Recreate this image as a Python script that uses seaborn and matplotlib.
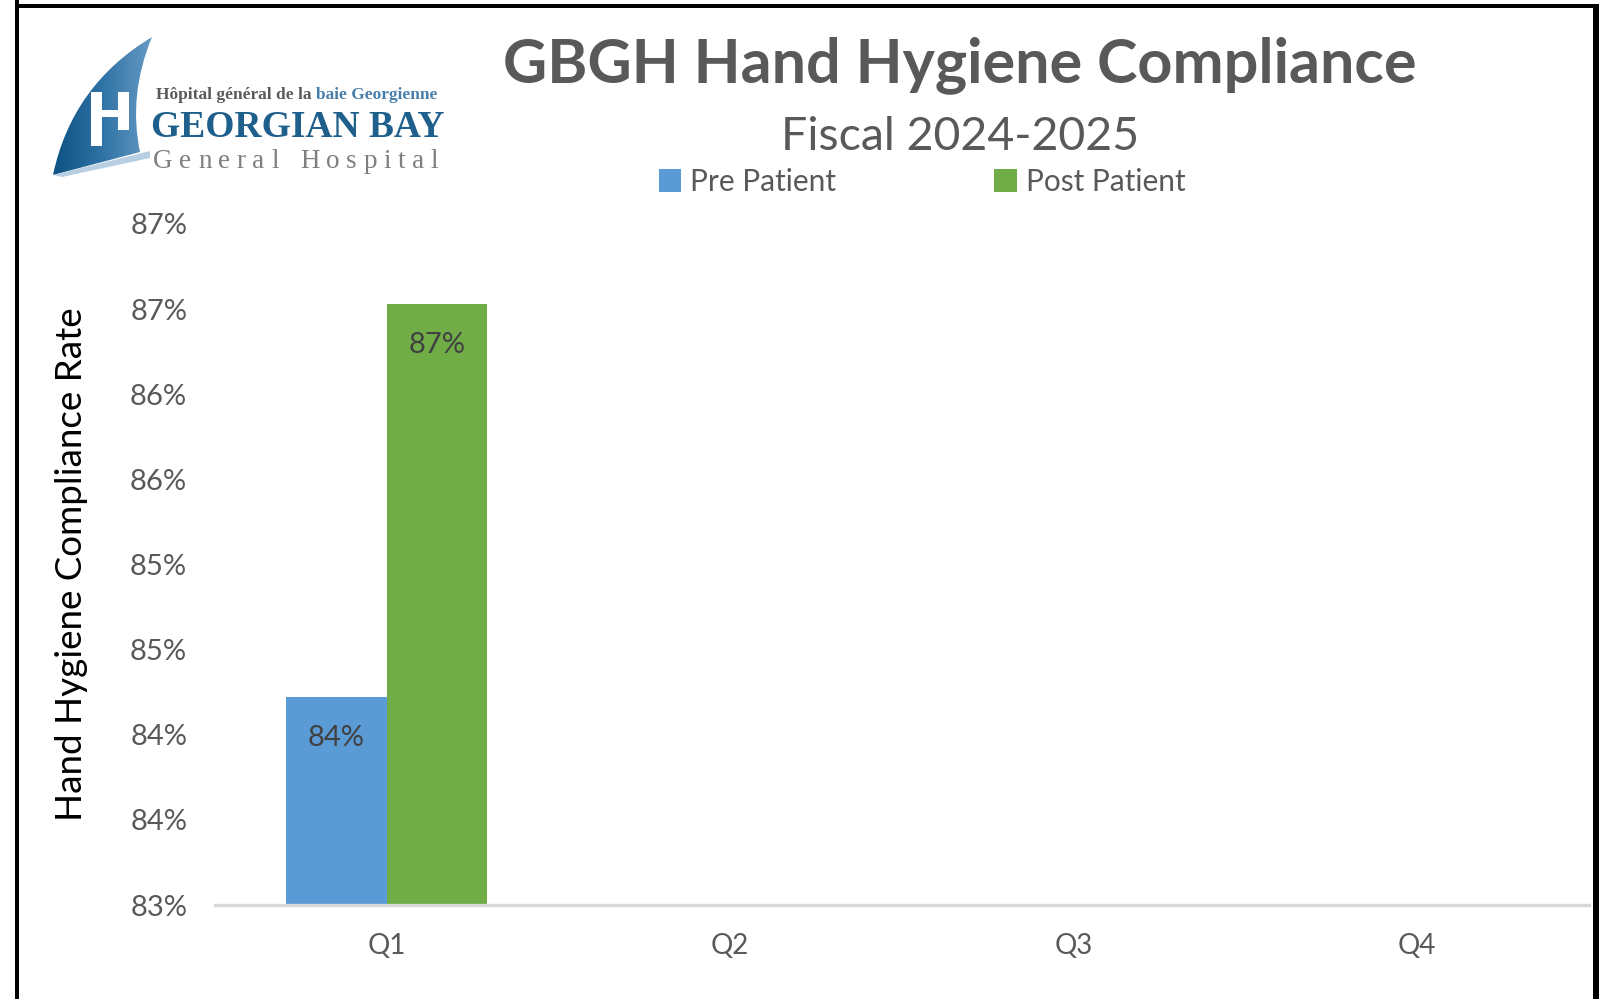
import numpy as np
import pandas as pd
import matplotlib
matplotlib.use("Agg")
import matplotlib.pyplot as plt
import seaborn as sns
from matplotlib.path import Path
from matplotlib.patches import PathPatch, Rectangle, Polygon
from matplotlib.colors import LinearSegmentedColormap
from matplotlib.ticker import MultipleLocator, FuncFormatter
import math

# ---------------- data ----------------
quarters = ["Q1", "Q2", "Q3", "Q4"]
series_names = ["Pre Patient", "Post Patient"]
pre_patient = [84.22, np.nan, np.nan, np.nan]
post_patient = [86.53, np.nan, np.nan, np.nan]
series_colors = ["#5B9BD5", "#70AD47"]

title = "GBGH Hand Hygiene Compliance"
subtitle = "Fiscal 2024-2025"
y_label = "Hand Hygiene Compliance Rate"
y_min, y_max, y_step = 83, 87, 0.5

df = pd.DataFrame({
    "Quarter": quarters * 2,
    "Series": [series_names[0]] * len(quarters) + [series_names[1]] * len(quarters),
    "Rate": pre_patient + post_patient,
})

def pct(v, pos=None):
    return f"{math.floor(v + 0.5):d}%"

# ---------------- figure ----------------
sns.set_theme(style="white")
plt.rcParams['font.family'] = ['Lato', 'DejaVu Sans']

W, H = 1599, 999
fig = plt.figure(figsize=(W / 100, H / 100), dpi=100)
fig.patch.set_facecolor("white")

ax = fig.add_axes([215 / W, 1 - 905 / H, (1589 - 215) / W, (905 - 224) / H])
sns.barplot(data=df, x="Quarter", y="Rate", hue="Series", order=quarters,
            hue_order=series_names, palette=series_colors, width=0.586,
            saturation=1, errorbar=None, linewidth=0, ax=ax)

ax.set_ylim(y_min, y_max)
ax.yaxis.set_major_locator(MultipleLocator(y_step))
ax.yaxis.set_major_formatter(FuncFormatter(pct))
ax.set_xlabel("")
for s in ["top", "right", "left"]:
    ax.spines[s].set_visible(False)
ax.spines["bottom"].set_color("#D9D9D9")
ax.spines["bottom"].set_linewidth(2.4)
ax.tick_params(axis="y", length=0, labelsize=21, labelcolor="#595959", pad=20)
ax.tick_params(axis="x", length=0, labelsize=20, labelcolor="#595959", pad=20)

ax.set_ylabel(y_label, fontsize=26.5, color="black")
ax.yaxis.set_label_coords((72 - 215) / (1589 - 215), 0.5)
ax.yaxis.label.set_verticalalignment("center")

for cont in ax.containers:
    for bar in cont:
        h = bar.get_height()
        if h is None or np.isnan(h):
            continue
        ax.annotate(pct(h), (bar.get_x() + bar.get_width() / 2, h),
                    xytext=(0, -41 * 0.72), textcoords="offset points",
                    ha="center", va="center", fontsize=21, color="#404040")

handles, labels = ax.get_legend_handles_labels()
if ax.get_legend() is not None:
    ax.get_legend().remove()
fig.legend(handles, labels, loc="center", bbox_to_anchor=(922 / W, 1 - 182 / H),
           ncol=2, frameon=False, fontsize=21.5, handlelength=0.75, handleheight=0.8,
           handletextpad=0.3, columnspacing=5.3, labelcolor="#595959")

fig.text(960 / W, 1 - 82 / H, title, ha="center", va="baseline",
         fontsize=44, fontweight="bold", color="#595959")
fig.text(960 / W, 1 - 150 / H, subtitle, ha="center", va="baseline",
         fontsize=33.5, fontweight="normal", color="#595959")

# ---------------- overlay: logo + frame ----------------
ov = fig.add_axes([0, 0, 1, 1], zorder=5)
ov.patch.set_alpha(0)
ov.axis("off")

sail = Path([(53, 175), (72, 85), (152, 37), (128, 95), (140, 152), (53, 175)],
            [Path.MOVETO, Path.CURVE3, Path.CURVE3, Path.CURVE3, Path.CURVE3, Path.LINETO])
sail_patch = PathPatch(sail, facecolor="none", edgecolor="none")
ov.add_patch(sail_patch)
cmap = LinearSegmentedColormap.from_list("sail", ["#0B4F80", "#2F73A6", "#6A9CC6"])
grad = np.tile(np.linspace(0, 1, 200), (100, 1))
im = ov.imshow(grad, extent=(50, 155, 178, 35), cmap=cmap, aspect="auto", zorder=1)
im.set_clip_path(sail_patch)

for (x0, y0, w, h) in [(91, 92, 11, 54), (118, 92, 11, 38), (102, 110, 16, 7)]:
    ov.add_patch(Rectangle((x0, y0), w, h, facecolor="white", edgecolor="none", zorder=2))
ov.add_patch(Polygon([(53, 175), (150, 151), (150, 158), (62, 177)],
                     closed=True, facecolor="#B8CFE3", edgecolor="none", zorder=3))

ov.set_xlim(0, W)
ov.set_ylim(H, 0)

renderer = fig.canvas.get_renderer()
t1 = ov.text(156, 99, "Hôpital général de la ", family="Liberation Serif",
             fontweight="bold", fontsize=12.5, color="#5A5A5A", va="baseline", ha="left")
bb = t1.get_window_extent(renderer)
ov.text(156 + bb.width, 99, "baie Georgienne", family="Liberation Serif",
        fontweight="bold", fontsize=12.5, color="#4A7FAB", va="baseline", ha="left")
ov.text(151, 137, "GEORGIAN BAY", family="Liberation Serif", fontsize=27,
        fontweight="bold", color="#1F5F8B", va="baseline", ha="left")

gh = "General Hospital"
xs, xe = 153, 438
widths = []
tmp_texts = []
for ch in gh:
    t = ov.text(0, 168, ch, family="Liberation Serif", fontsize=19.5, color="#7F7F7F",
                va="baseline", ha="left")
    tmp_texts.append(t)
    widths.append(t.get_window_extent(renderer).width if ch != " " else 0)
space_w = 8
natural = sum(widths) + space_w
gap = (xe - xs - natural) / (len(gh) - 1)
x = xs
for ch, t, w in zip(gh, tmp_texts, widths):
    t.set_x(x)
    x += (w if ch != " " else space_w) + gap

ov.add_patch(Rectangle((15, 0), 4, H, facecolor="black", edgecolor="none", zorder=10))
ov.add_patch(Rectangle((15, 4), W - 15, 4, facecolor="black", edgecolor="none", zorder=10))
ov.add_patch(Rectangle((1593, 4), 6, H, facecolor="black", edgecolor="none", zorder=10))

fig.savefig("out.png", dpi=100)
